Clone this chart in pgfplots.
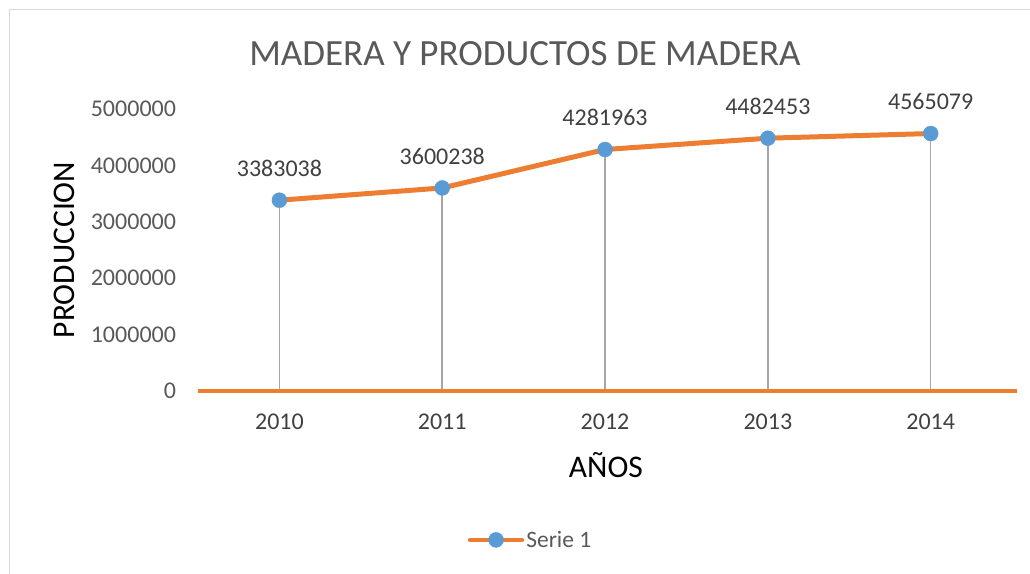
\documentclass[border=0pt]{standalone}
\usepackage{fontspec}
\setmainfont{Carlito}
\usepackage{pgfplots}
\usepackage{pgfplotstable}
\pgfplotsset{compat=1.18}
\definecolor{orangeC}{HTML}{ED7D31}
\definecolor{blueC}{HTML}{5B9BD5}
\definecolor{dropC}{HTML}{A6A6A6}
\definecolor{txtC}{HTML}{595959}
\definecolor{lblC}{HTML}{404040}
\definecolor{brdC}{HTML}{D9D9D9}
\pgfplotstableread{
x y label
2010 3383038 3383038
2011 3600238 3600238
2012 4281963 4281963
2013 4482453 4482453
2014 4565079 4565079
}\data
\begin{document}
\begin{tikzpicture}
\useasboundingbox (0,0) rectangle (1030bp,574bp);
\draw[brdC, line width=1.5bp] (9.5bp,-10bp) -- (9.5bp,564.5bp) -- (1045bp,564.5bp);
\node[text=txtC, font=\fontsize{37bp}{44bp}\selectfont, anchor=center] at (525bp,520bp) {MADERA Y PRODUCTOS DE MADERA};
\begin{axis}[
  at={(198bp,183bp)}, anchor=south west,
  scale only axis, width=819bp, height=282bp,
  xmin=2009.5, xmax=2014.53,
  ymin=0, ymax=5000000,
  scaled y ticks=false,
  xtick={2010,2011,2012,2013,2014},
  xticklabels={2010,2011,2012,2013,2014},
  ytick={0,1000000,2000000,3000000,4000000,5000000},
  yticklabels={0,1000000,2000000,3000000,4000000,5000000},
  axis line style={draw=none},
  tick style={draw=none},
  clip=false,
  tick label style={text=txtC, font=\fontsize{24bp}{29bp}\selectfont},
  yticklabel style={xshift=-18.5bp},
  xticklabel style={yshift=-19bp, text=lblC},
  xlabel={AÑOS}, ylabel={PRODUCCION},
  every axis y label/.style={at={(axis description cs:-0.1636,0.5)}, rotate=90, anchor=center, font=\fontsize{31.5bp}{38bp}\selectfont},
  every axis x label/.style={at={(axis description cs:0.498,-0.262)}, anchor=center, font=\fontsize{31.5bp}{38bp}\selectfont},
  legend style={draw=none, fill=none, at={(0.406,-0.528)}, anchor=center, font=\fontsize{23.5bp}{28bp}\selectfont, text=txtC},
  legend image code/.code={\draw[orangeC, line width=4.5bp, line cap=round] (0bp,0bp) -- (52bp,0bp); \fill[blueC] (26bp,0bp) circle (7.5bp);},
]
\addplot[ycomb, dropC, line width=1.5bp, mark=none, forget plot] table[x=x,y=y]{\data};
\addplot[orangeC, line width=3.5bp, mark=none, forget plot] coordinates {(2009.5,0) (2014.53,0)};
\addplot[orangeC, line width=5bp, line join=round, mark=none, forget plot] table[x=x,y=y]{\data};
\addplot[only marks, mark=*, mark size=7.5bp, mark options={fill=blueC, draw=blueC, line width=0.4bp},
  point meta=explicit symbolic,
  nodes near coords,
  every node near coord/.style={anchor=center, yshift=32bp, text=lblC, font=\fontsize{24bp}{29bp}\selectfont}]
  table[x=x,y=y,meta=label]{\data};
\addlegendentry{Serie 1}
\end{axis}
\end{tikzpicture}
\end{document}
